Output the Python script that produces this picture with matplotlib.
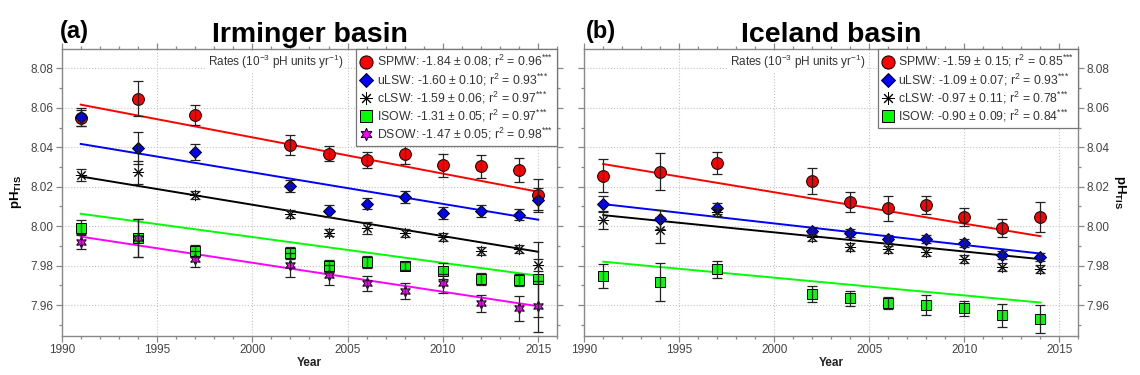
import numpy as np
import matplotlib
matplotlib.use('Agg')
import matplotlib.pyplot as plt
from matplotlib.lines import Line2D
from matplotlib.ticker import MultipleLocator

plt.rcParams['font.family'] = ['Liberation Sans', 'DejaVu Sans']
plt.rcParams['mathtext.fontset'] = 'custom'
plt.rcParams['mathtext.rm'] = 'Liberation Sans'
plt.rcParams['mathtext.it'] = 'Liberation Sans:italic'
plt.rcParams['mathtext.bf'] = 'Liberation Sans:bold'

# ---- Irminger basin ----
years_irm = [1991, 1994, 1997, 2002, 2004, 2006, 2008, 2010, 2012, 2014, 2015]
irm_spmw = [8.0550, 8.0646, 8.0565, 8.0410, 8.0368, 8.0337, 8.0366, 8.0308, 8.0303, 8.0286, 8.0160]
irm_spmw_err = [0.004, 0.0088, 0.005, 0.005, 0.004, 0.004, 0.005, 0.006, 0.006, 0.006, 0.0077]
irm_ulsw = [8.0553, 8.0397, 8.0376, 8.0205, 8.0078, 8.0115, 8.0146, 8.0066, 8.0078, 8.0059, 8.0134]
irm_ulsw_err = [0.0045, 0.008, 0.004, 0.003, 0.003, 0.003, 0.003, 0.003, 0.003, 0.003, 0.006]
irm_clsw = [8.0261, 8.0273, 8.0160, 8.0063, 7.9968, 7.9990, 7.9965, 7.9944, 7.9876, 7.9885, 7.9803]
irm_clsw_err = [0.003, 0.0058, 0.002, 0.002, 0.002, 0.003, 0.002, 0.002, 0.002, 0.002, 0.003]
irm_isow = [7.9993, 7.9939, 7.9875, 7.9866, 7.9798, 7.9819, 7.9798, 7.9774, 7.9734, 7.9727, 7.9731]
irm_isow_err = [0.004, 0.0095, 0.003, 0.003, 0.003, 0.003, 0.002, 0.004, 0.003, 0.003, 0.019]
irm_dsow = [7.9922, 7.9939, 7.9832, 7.9803, 7.9753, 7.9710, 7.9673, 7.9710, 7.9609, 7.9583, 7.9593]
irm_dsow_err = [0.004, 0.0095, 0.004, 0.006, 0.005, 0.004, 0.004, 0.005, 0.0043, 0.0064, 0.013]

irm_names = ['SPMW', 'uLSW', 'cLSW', 'ISOW', 'DSOW']
irm_rate = [-1.84, -1.60, -1.59, -1.31, -1.47]      # 10^-3 pH units / yr
irm_rate_err = [0.08, 0.10, 0.06, 0.05, 0.05]
irm_r2 = [0.96, 0.93, 0.97, 0.97, 0.98]
irm_fit_start = [8.0616, 8.0417, 8.0252, 8.0063, 7.9947]  # fit line value in first year

# ---- Iceland basin ----
years_ice = [1991, 1994, 1997, 2002, 2004, 2006, 2008, 2010, 2012, 2014]
ice_spmw = [8.0256, 8.0276, 8.0321, 8.0229, 8.0121, 8.0090, 8.0107, 8.0048, 7.9992, 8.0048]
ice_spmw_err = [0.0085, 0.0095, 0.0056, 0.0065, 0.005, 0.0065, 0.0045, 0.0045, 0.0045, 0.0075]
ice_ulsw = [8.0112, 8.0034, 8.0090, 7.9977, 7.9967, 7.9936, 7.9936, 7.9916, 7.9852, 7.9845]
ice_ulsw_err = [0.004, 0.005, 0.003, 0.002, 0.002, 0.002, 0.002, 0.002, 0.002, 0.002]
ice_clsw = [8.0031, 7.9980, 8.0070, 7.9946, 7.9896, 7.9882, 7.9867, 7.9833, 7.9791, 7.9781]
ice_clsw_err = [0.0045, 0.0065, 0.002, 0.002, 0.002, 0.002, 0.002, 0.002, 0.002, 0.002]
ice_isow = [7.9749, 7.9718, 7.9781, 7.9656, 7.9634, 7.9609, 7.9600, 7.9583, 7.9548, 7.9529]
ice_isow_err = [0.006, 0.0095, 0.0045, 0.004, 0.004, 0.003, 0.005, 0.004, 0.006, 0.007]

ice_names = ['SPMW', 'uLSW', 'cLSW', 'ISOW']
ice_rate = [-1.59, -1.09, -0.97, -0.90]
ice_rate_err = [0.15, 0.07, 0.11, 0.09]
ice_r2 = [0.85, 0.93, 0.78, 0.84]
ice_fit_start = [8.0315, 8.0112, 8.0056, 7.9820]

# marker, face colour, marker size, line colour
STYLE = {
    'SPMW': ('o', '#ff0000', 8.5, '#ff0000'),
    'uLSW': ('D', '#0000ff', 6.5, '#0000ff'),
    'cLSW': ((8, 2, 0), 'k', 8, 'k'),
    'ISOW': ('s', '#00ff00', 7.5, '#00ff00'),
    'DSOW': ((6, 1, 0), '#ff00ff', 8, '#ff00ff'),
}
GRAY = '#888888'
STARS = '$^{{*}{*}{*}}$'   # braces keep the asterisks tight (no operator spacing)


def draw_panel(ax, years, series, errs, names, rate, rate_err, r2, fit_start):
    x_end = years[-1]
    for name, y, e, slope, y0 in zip(names, series, errs, rate, fit_start):
        mk, fc, ms, lc = STYLE[name]
        ax.plot([years[0], x_end], [y0, y0 + slope * 1e-3 * (x_end - years[0])],
                color=lc, lw=1.4, zorder=2)
        ax.plot(years, y, ls='none', marker=mk, mfc=fc, mec='k', mew=0.7, ms=ms, zorder=3)
        ax.errorbar(years, y, yerr=e, fmt='none', ecolor='#222222', elinewidth=0.9,
                    capsize=3.3, capthick=0.9, zorder=4)

    ax.set_xlim(1990, 2016)
    ax.set_ylim(7.9445, 8.0898)
    ax.xaxis.set_major_locator(MultipleLocator(5))
    ax.xaxis.set_minor_locator(MultipleLocator(1))
    ax.yaxis.set_major_locator(MultipleLocator(0.02))
    ax.yaxis.set_minor_locator(MultipleLocator(0.01))
    ax.yaxis.set_major_formatter(plt.FormatStrFormatter('%.2f'))
    ax.tick_params(which='both', direction='out', top=True, right=True, color=GRAY,
                   labelcolor='#444444', labelsize=8.5, width=0.9)
    ax.tick_params(which='major', length=4.5, pad=1.5)
    ax.tick_params(which='minor', length=2.5)
    for sp in ax.spines.values():
        sp.set_edgecolor(GRAY)
        sp.set_linewidth(1.0)
    ax.set_axisbelow(True)
    ax.grid(True, which='major', ls=':', color='#c4c4c4', lw=0.8)
    ax.set_xlabel('Year', fontweight='bold', fontsize=8.5, labelpad=1, color='#222222')

    handles, labels = [], []
    for name, r, re_, q in zip(names, rate, rate_err, r2):
        mk, fc, ms, lc = STYLE[name]
        handles.append(Line2D([], [], ls='none', marker=mk, mfc=fc, mec='k', mew=0.7, ms=ms + 1))
        labels.append(f'{name}: {r:.2f} \u00b1 {re_:.2f}; r$^{{2}}$ = {q:.2f}' + STARS)
    leg = ax.legend(handles, labels, loc='upper right', borderaxespad=0, fancybox=False,
                    edgecolor='#777777', framealpha=1, fontsize=8.8, handlelength=1.0,
                    handletextpad=0.35, borderpad=0.35, labelspacing=0.15)
    leg.get_frame().set_linewidth(0.9)
    for t in leg.get_texts():
        t.set_color('#333333')

    ax.text(0.568, 0.955, 'Rates (10$^{-3}$ pH units yr$^{-1}$)', transform=ax.transAxes,
            ha='right', va='center', fontsize=8.5, color='#333333',
            bbox=dict(fc='white', ec='none', pad=1.5), zorder=5)


fig = plt.figure(figsize=(11.4, 3.75), dpi=100)
ax1 = fig.add_axes([0.0541, 0.1048, 0.4347, 0.7645])
ax2 = fig.add_axes([0.5125, 0.1048, 0.4335, 0.7645])

draw_panel(ax1, years_irm,
           [irm_spmw, irm_ulsw, irm_clsw, irm_isow, irm_dsow],
           [irm_spmw_err, irm_ulsw_err, irm_clsw_err, irm_isow_err, irm_dsow_err],
           irm_names, irm_rate, irm_rate_err, irm_r2, irm_fit_start)
draw_panel(ax2, years_ice,
           [ice_spmw, ice_ulsw, ice_clsw, ice_isow],
           [ice_spmw_err, ice_ulsw_err, ice_clsw_err, ice_isow_err],
           ice_names, ice_rate, ice_rate_err, ice_r2, ice_fit_start)

ylab = r'$\mathbf{pH}_{\mathbf{TIS}}$'
ax1.tick_params(labelleft=True, labelright=False)
ax1.set_ylabel(ylab, fontsize=9.5, va='center', ha='center')
ax1.yaxis.set_label_coords(-0.092, 0.5)

ax2.tick_params(labelleft=False, labelright=True)
ax2.yaxis.set_label_position('right')
ax2.set_ylabel(ylab, fontsize=9.5, rotation=270, va='center', ha='center')
ax2.yaxis.set_label_coords(1.084, 0.5)

ax1.set_title('Irminger basin', fontsize=20.5, fontweight='bold', pad=5)
ax2.set_title('Iceland basin', fontsize=20.5, fontweight='bold', pad=5)
fig.text(60 / 1140, 1 - 38 / 375, '(a)', fontsize=17, fontweight='bold', ha='left', va='baseline')
fig.text(586 / 1140, 1 - 38 / 375, '(b)', fontsize=17, fontweight='bold', ha='left', va='baseline')

fig.savefig('out.png', dpi=100, facecolor='white')
